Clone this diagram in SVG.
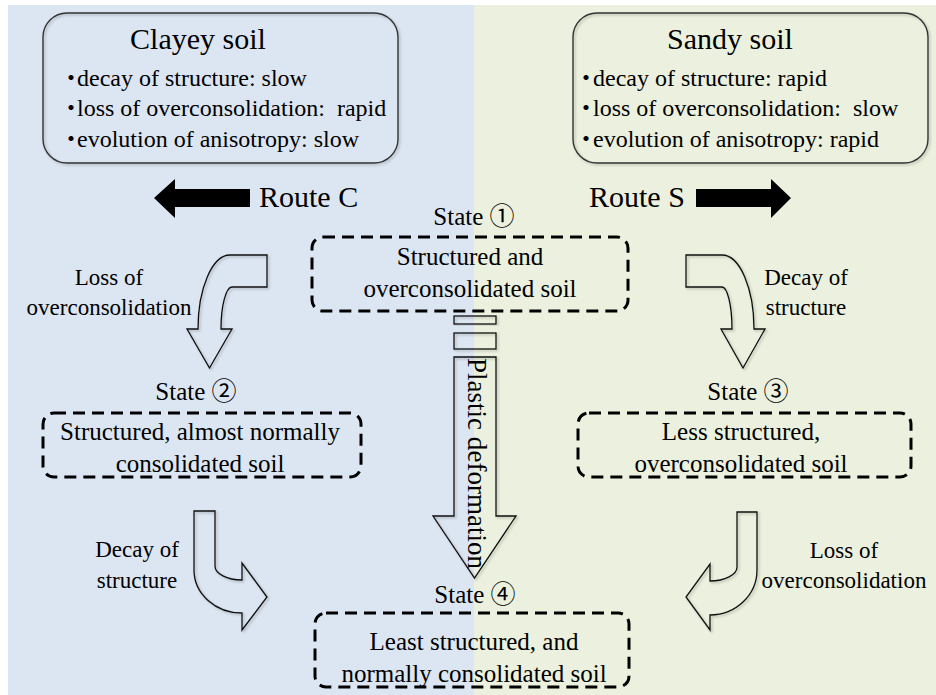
<svg xmlns="http://www.w3.org/2000/svg" width="936" height="695" viewBox="0 0 936 695">
  <defs>
    <style>
      text { font-family: "Liberation Serif", "Times New Roman", serif; fill: #000; white-space: pre; }
      .cjk { font-family: "Noto Sans CJK JP", sans-serif; }
      .title { font-size: 30px; text-anchor: middle; }
      .bullet { font-size: 24px; }
      .route { font-size: 30px; }
      .state { font-size: 25px; text-anchor: middle; }
      .body { font-size: 25px; text-anchor: middle; }
      .label { font-size: 23px; text-anchor: middle; }
      .soilbox { fill: none; stroke: #333; stroke-width: 1.4; }
      .dashbox { fill: none; stroke: #000; stroke-width: 3; stroke-dasharray: 12 7; }
      .outline { fill: none; stroke: #111; stroke-width: 1.3; stroke-linejoin: miter; }
      .solid { fill: #000; stroke: none; }
    </style>
    <filter id="shade" x="-10%" y="-10%" width="130%" height="130%">
      <feDropShadow dx="1.5" dy="1.5" stdDeviation="1" flood-color="#000" flood-opacity="0.25"/>
    </filter>
  </defs>

  <!-- background panels -->
  <rect x="0" y="0" width="936" height="695" fill="#ffffff"/>
  <rect x="8" y="5" width="466" height="690" fill="#dce6f2"/>
  <rect x="474" y="5" width="462" height="690" fill="#ebf1de"/>

  <!-- soil property boxes -->
  <g id="clayey-soil">
    <rect class="soilbox" x="43" y="13" width="355" height="150" rx="24" filter="url(#shade)"/>
    <text class="title" x="198" y="49">Clayey soil</text>
    <text class="bullet" x="59" y="86"><tspan class="cjk">・</tspan><tspan dx="-6">decay of structure: slow</tspan></text>
    <text class="bullet" x="59" y="116"><tspan class="cjk">・</tspan><tspan dx="-6">loss of overconsolidation:  rapid</tspan></text>
    <text class="bullet" x="59" y="147"><tspan class="cjk">・</tspan><tspan dx="-6">evolution of anisotropy: slow</tspan></text>
  </g>

  <g id="sandy-soil">
    <rect class="soilbox" x="573" y="13" width="355" height="150" rx="24" filter="url(#shade)"/>
    <text class="title" x="730" y="49">Sandy soil</text>
    <text class="bullet" x="574" y="86"><tspan class="cjk">・</tspan><tspan dx="-5">decay of structure: rapid</tspan></text>
    <text class="bullet" x="574" y="116"><tspan class="cjk">・</tspan><tspan dx="-5">loss of overconsolidation:  slow</tspan></text>
    <text class="bullet" x="574" y="147"><tspan class="cjk">・</tspan><tspan dx="-5">evolution of anisotropy: rapid</tspan></text>
  </g>

  <!-- route indicators -->
  <g id="route-c">
    <path class="solid" d="M154,198 L175,179 L175,189 L250,189 L250,207 L175,207 L175,218 Z"/>
    <text class="route" x="259" y="207">Route C</text>
  </g>
  <g id="route-s">
    <text class="route" x="589" y="207">Route S</text>
    <path class="solid" d="M791,198 L771,179 L771,189 L696,189 L696,207 L771,207 L771,218 Z"/>
  </g>

  <!-- states -->
  <g id="state-1">
    <text class="state" x="474" y="225">State <tspan class="cjk">①</tspan></text>
    <rect class="dashbox" x="312" y="237" width="316" height="74" rx="11"/>
    <text class="body" x="470" y="265">Structured and</text>
    <text class="body" x="470" y="297">overconsolidated soil</text>
  </g>

  <g id="state-2">
    <text class="state" x="196" y="400">State <tspan class="cjk">②</tspan></text>
    <rect class="dashbox" x="43" y="413" width="318" height="64" rx="11"/>
    <text class="body" x="200" y="440">Structured, almost normally</text>
    <text class="body" x="200" y="472">consolidated soil</text>
  </g>

  <g id="state-3">
    <text class="state" x="748" y="400">State <tspan class="cjk">③</tspan></text>
    <rect class="dashbox" x="578" y="413" width="333" height="64" rx="11"/>
    <text class="body" x="741" y="440">Less structured,</text>
    <text class="body" x="741" y="472">overconsolidated soil</text>
  </g>

  <g id="state-4">
    <text class="state" x="475" y="603">State <tspan class="cjk">④</tspan></text>
    <rect class="dashbox" x="315" y="613" width="314" height="74" rx="11"/>
    <text class="body" x="474" y="650">Least structured, and</text>
    <text class="body" x="474" y="682">normally consolidated soil</text>
  </g>

  <!-- transition arrows -->
  <g id="connectors">
    <g id="loss-oc-c">
      <path class="outline" filter="url(#shade)" d="M267,255 L267,287 L232,287 A11,42 0 0 0 221,329 L232,329 L209.5,368 L187,329 L198,329 A32,74 0 0 1 230,255 Z"/>
      <text class="label" x="109" y="285">Loss of</text>
      <text class="label" x="109" y="315">overconsolidation</text>
    </g>
    <g id="decay-s">
      <path class="outline" filter="url(#shade)" d="M686,255 L722,255 A32,74 0 0 1 754,329 L765,329 L743,368 L721,329 L732,329 A10,42 0 0 0 722,287 L686,287 Z"/>
      <text class="label" x="806" y="285">Decay of</text>
      <text class="label" x="806" y="315">structure</text>
    </g>
    <g id="decay-c">
      <path class="outline" filter="url(#shade)" d="M194,511 L215,511 L215,566 A27,14 0 0 0 242,580 L242,563 L267,597 L242,630 L242,613 A48,43 0 0 1 194,570 Z"/>
      <text class="label" x="137" y="557">Decay of</text>
      <text class="label" x="137" y="588">structure</text>
    </g>
    <g id="loss-oc-s">
      <path class="outline" filter="url(#shade)" d="M757,512 L737,512 L737,567 A27,14 0 0 1 710,581 L710,564 L686,597 L710,630 L710,615 A47,45 0 0 0 757,570 Z"/>
      <text class="label" x="844" y="558">Loss of</text>
      <text class="label" x="844" y="588">overconsolidation</text>
    </g>
    <g id="plastic-deformation">
      <rect class="outline" x="454" y="316" width="42" height="8" filter="url(#shade)"/>
      <rect class="outline" x="454" y="333" width="42" height="16" filter="url(#shade)"/>
      <path class="outline" filter="url(#shade)" d="M454,357 L496,357 L496,516 L516,516 L474.5,578 L433,516 L454,516 Z"/>
      <text transform="translate(468,358) rotate(90)" x="0" y="0" style="font-size:27px" textLength="211" lengthAdjust="spacingAndGlyphs">Plastic deformation</text>
    </g>
  </g>
</svg>
